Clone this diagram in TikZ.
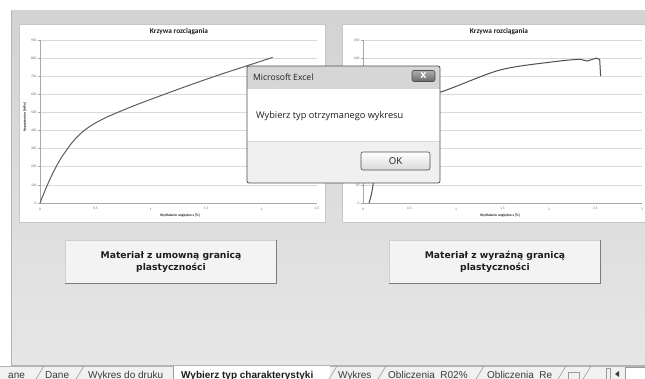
\documentclass[tikz,border=0pt]{standalone}
\usepackage{fontspec}
\setmainfont{Liberation Sans}
\newfontfamily\chartfont{Carlito}
\newfontfamily\winfont{Open Sans}
\newfontfamily\formfont{DejaVu Sans}
\usetikzlibrary{positioning}
\definecolor{ink}{HTML}{1E1E1E}
\definecolor{sheettop}{HTML}{D3D3D3}
\definecolor{sheetbottom}{HTML}{E6E6E6}
\definecolor{sheetedge}{HTML}{B4B4B4}
\definecolor{panelline}{HTML}{C6C6C6}
\definecolor{gridgray}{HTML}{D9D9D9}
\definecolor{axisgray}{HTML}{A8A8A8}
\definecolor{curvegray}{HTML}{5E5E5E}
\definecolor{tickgray}{HTML}{6E6E6E}
\definecolor{btnline}{HTML}{CFCFCF}
\definecolor{btnfill}{HTML}{F3F3F3}
\definecolor{shadowgray}{HTML}{7C7C7C}
\definecolor{winline}{HTML}{4E4E4E}
\definecolor{winbar}{HTML}{D6D6D6}
\definecolor{winfoot}{HTML}{F0F0F0}
\definecolor{okfill}{HTML}{DADADA}
\definecolor{closefill}{HTML}{6A6A6A}
\definecolor{tabfill}{HTML}{F1F1F1}
\definecolor{tabline}{HTML}{9A9A9A}
\definecolor{tabink}{HTML}{3A3A3A}
\tikzset{
 every node/.append style={text=ink,inner sep=0pt},
 panel/.style={draw=panelline,fill=white,line width=.7pt},
 gridline/.style={draw=gridgray,line width=.6pt},
 axisline/.style={draw=axisgray,line width=.6pt},
 curveline/.style={draw=curvegray,line width=1pt,line join=round},
 ticklabel/.style={font=\chartfont\fontsize{3.6}{4}\selectfont,text=tickgray},
 charttitle/.style={font=\chartfont\bfseries\fontsize{7.4}{9}\selectfont},
 axistitle/.style={font=\chartfont\bfseries\fontsize{3.5}{4}\selectfont},
 formbutton/.style={draw=btnline,fill=btnfill,line width=.6pt,minimum width=211pt,minimum height=43pt,
   font=\formfont\bfseries\fontsize{9.2}{11.5}\selectfont,align=center},
 btnshadow/.style={draw=shadowgray,line width=1.3pt},
 winbutton/.style={draw=winline,rounded corners=2pt,line width=.6pt,top color=white,bottom color=okfill},
 tablabel/.style={anchor=base west,font=\fontsize{10}{12}\selectfont,text=tabink},
 tabsep/.style={draw=tabline,line width=.6pt},
}

\begin{document}
\begin{tikzpicture}[x=1pt,y=-1pt]
\useasboundingbox (0,0) rectangle (645,379);
\clip (0,0) rectangle (645,379);
\fill[white] (0,0) rectangle (645,379);

\shade[top color=sheettop,bottom color=sheetbottom] (11,11) rectangle (645,365);
\draw[sheetedge,line width=.7pt] (11,11) -- (11,365) -- (645,365);

\draw[panel] (19,24) rectangle (325,222);
\draw[panel] (342,24) rectangle (660,222);

\node[charttitle] (lefttitle) at (179,32) {Krzywa rozciągania};
\node[axistitle] (leftxtitle) at (180,216) {Wydłużenie względne ε [\%]};
\node[axistitle,rotate=90] (leftytitle) at (25,117) {Naprężenie σ [MPa]};
\begin{scope}[xshift=40pt,yshift=-203pt,x=110.8pt,y=0.1811pt]
  \foreach \s in {100,200,...,900}
    \draw[gridline] (0,\s) -- (2.5,\s);
  \draw[axisline] (0,0) -- (0,900);
  \draw[axisline] (0,0) -- (2.5,0);
  \foreach \s in {0,100,...,900} {
    \draw[axisline] (-0.018,\s) -- (0,\s);
    \node[ticklabel,anchor=east] (ly\s) at (-0.03,\s) {\s};
  }
  \foreach \u/\t [count=\i] in {0/0,0.5/{0,5},1/1,1.5/{1,5},2/2,2.5/{2,5}}
    \node[ticklabel] (lx\i) at (\u,-33) {\t};
  \draw[curveline] plot[smooth,tension=.7] coordinates
    {(0,0) (0.08,118) (0.165,222) (0.24,292) (0.32,355) (0.42,410) (0.55,458) (0.72,505)
     (0.99,570) (1.5,683) (2.0,784) (2.1,804)};
\end{scope}

\node[charttitle] (righttitle) at (499,32) {Krzywa rozciągania};
\node[axistitle] (rightxtitle) at (500,216) {Wydłużenie względne ε [\%]};
\begin{scope}[xshift=363pt,yshift=-203pt,x=93pt,y=0.3622pt]
  \foreach \s in {50,100,...,450}
    \draw[gridline] (0,\s) -- (3,\s);
  \draw[axisline] (0,0) -- (0,450);
  \draw[axisline] (0,0) -- (3,0);
  \foreach \s in {0,50,400,450} {
    \draw[axisline] (-0.022,\s) -- (0,\s);
    \node[ticklabel,anchor=east] (ry\s) at (-0.036,\s) {\s};
  }
  \foreach \u/\t [count=\i] in {0/0,0.5/{0,5},1/1,1.5/{1,5},2/2,2.5/{2,5},3/3}
    \node[ticklabel] (rx\i) at (\u,-16.5) {\t};
  \draw[curveline,draw=winline] plot[smooth,tension=.5] coordinates
    {(0.065,0) (0.11,54) (0.15,200) (0.22,268) (0.45,288) (0.83,306)
     (1.47,367) (2.05,390) (2.33,397)}
    -- (2.41,392) -- (2.51,400) -- (2.545,396) -- (2.555,350);
\end{scope}

\node[formbutton] (umowna) at (171,262) {Materiał z umowną granicą\\plastyczności};
\draw[btnshadow] (umowna.north east) -- (umowna.south east) -- (umowna.south west);
\node[formbutton] (wyrazna) at (495,262) {Materiał z wyraźną granicą\\plastyczności};
\draw[btnshadow] (wyrazna.north east) -- (wyrazna.south east) -- (wyrazna.south west);

\fill[white] (247,66) rectangle (440,183);
\fill[winbar] (247,66) rectangle (440,89);
\fill[winfoot] (247,141) rectangle (440,183);
\draw[gridgray,line width=.6pt] (248,141) -- (439,141);
\draw[winline,line width=.8pt,rounded corners=2pt] (247,183) -- (247,66) -- (440,66) -- (440,183) -- cycle;
\node[anchor=west,font=\winfont\fontsize{8.6}{10}\selectfont] (dlgtitle) at (253,77.5) {Microsoft Excel};
\node[winbutton,top color=closefill!55,bottom color=closefill,minimum width=23pt,minimum height=11pt,
  text=white,font=\formfont\bfseries\fontsize{8}{8}\selectfont] (dlgclose) at (423.5,76) {X};
\node[anchor=west,font=\winfont\fontsize{9.2}{12}\selectfont] (dlgmsg) at (256,116) {Wybierz typ otrzymanego wykresu};
\node[winbutton,minimum width=69pt,minimum height=18pt,font=\winfont\fontsize{9.6}{12}\selectfont] (dlgok) at (395.5,161) {OK};

\fill[tabfill] (0,366) rectangle (645,379);
\draw[sheetedge,line width=.6pt] (0,366) -- (645,366);
\fill[white] (173,366) rectangle (330,379);
\draw[tabsep] (173,366) -- (173,379);
\foreach \x in {40,80,333,382,480,562,587}
  \draw[tabsep] (\x-4,379) -- (\x+4,366);
\node[tablabel] (tabzero) at (8,378.3) {ane};
\node[tablabel] (tabdane) at (45,378.3) {Dane};
\node[tablabel] (tabdruk) at (88,378.3) {Wykres do druku};
\node[tablabel,font=\fontsize{10}{12}\selectfont\bfseries,text=ink] (tabwybierz) at (181,378.3) {Wybierz typ charakterystyki};
\node[tablabel] (tabwykres) at (338,378.3) {Wykres};
\node[tablabel] (tabrzero) at (388,378.3) {Obliczenia\_R02\%};
\node[tablabel] (tabre) at (487,378.3) {Obliczenia\_Re};
\draw[tabsep] (568,372) rectangle (579,379);
\draw[tabsep] (606,368) rectangle (610,379);
\fill[tabink] (615,374) -- (619,371) -- (619,377) -- cycle;
\draw[tabsep,fill=white] (625,367) rectangle (648,381);
\end{tikzpicture}
\end{document}
